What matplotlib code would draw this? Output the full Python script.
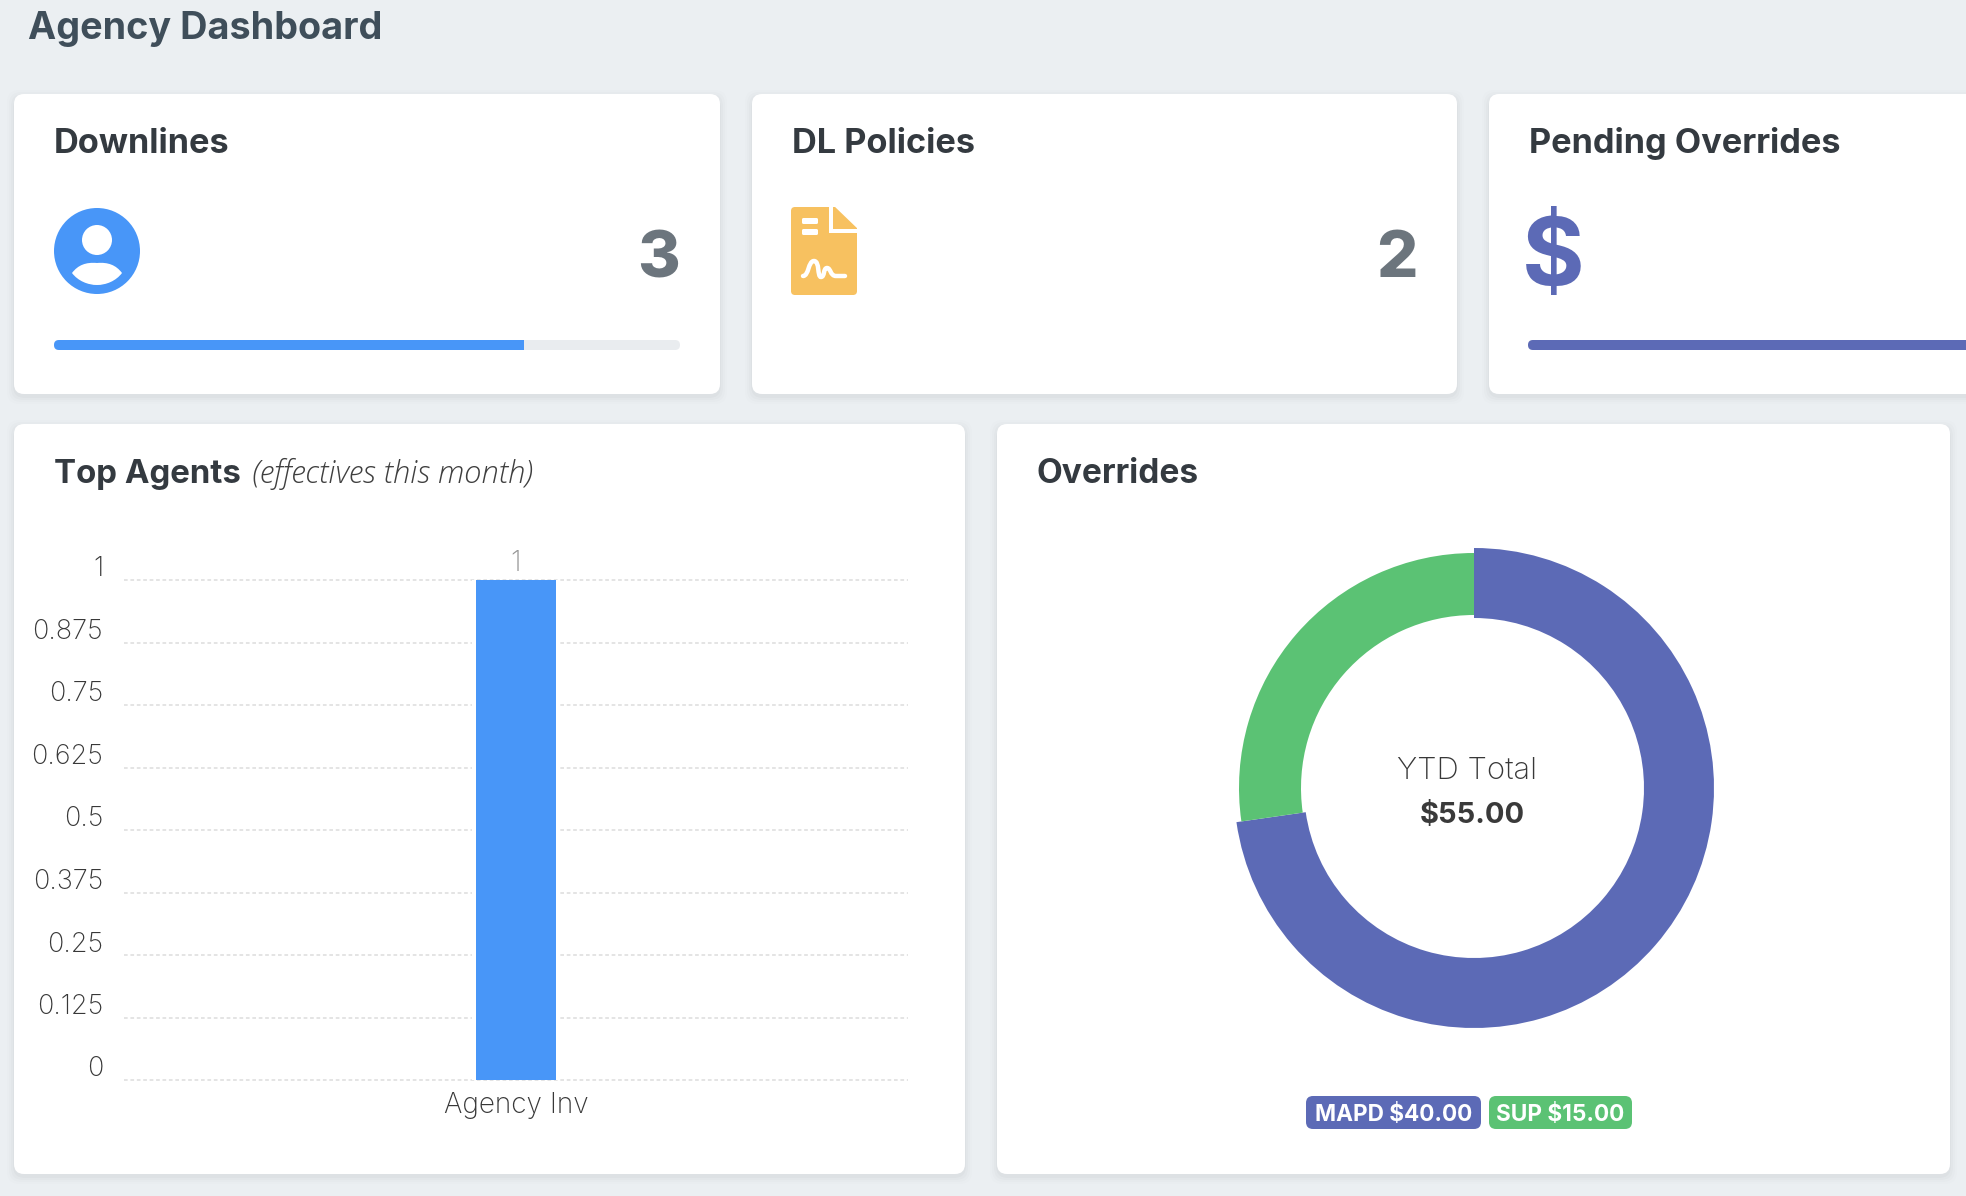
import matplotlib
matplotlib.use('Agg')
import matplotlib.pyplot as plt
from matplotlib.patches import FancyBboxPatch, Rectangle, Polygon, Circle, PathPatch
from matplotlib.path import Path
from matplotlib.transforms import ScaledTranslation

# data
page_title = "Agency Dashboard"
stat_titles = ["Downlines", "DL Policies", "Pending Overrides"]
stat_values = ["3", "2", ""]
stat_progress = [75, 0, 100]
agents = ["Agency Inv"]
agent_counts = [1]
y_ticks = [0, 0.125, 0.25, 0.375, 0.5, 0.625, 0.75, 0.875, 1]
y_labels = ["0", "0.125", "0.25", "0.375", "0.5", "0.625", "0.75", "0.875", "1"]
override_names = ["MAPD", "SUP"]
override_values = [40.0, 15.0]

W, H = 1966, 1196
BLUE = "#4896f8"
INDIGO = "#5c6ab6"
GREEN = "#5bc274"
YELLOW = "#f7c160"
FONT = "Inter"


def fs(px):
    return px * 0.72


def px_axes(x0, y0, x1, y1):
    return fig.add_axes([x0 / W, 1 - y1 / H, (x1 - x0) / W, (y1 - y0) / H])


def card(x0, y0, x1, y1):
    for grow, alpha in [(7, 0.007), (5, 0.01), (3, 0.014), (1, 0.018)]:
        bg.add_patch(FancyBboxPatch((x0 - grow + 12, y0 + 3 - grow + 12), x1 - x0 + 2 * grow - 24,
                                    y1 - y0 + 2 * grow - 24, boxstyle="round,pad=12,rounding_size=12",
                                    fc="black", ec="none", alpha=alpha))
    bg.add_patch(FancyBboxPatch((x0 + 10, y0 + 10), x1 - x0 - 20, y1 - y0 - 20,
                                boxstyle="round,pad=10,rounding_size=10", fc="white", ec="none"))


def rounded(x0, y0, x1, y1, r, color):
    p = FancyBboxPatch((x0 + r, y0 + r), x1 - x0 - 2 * r, y1 - y0 - 2 * r,
                       boxstyle="round,pad=%g,rounding_size=%g" % (r, r), fc=color, ec="none")
    bg.add_patch(p)
    return p


fig = plt.figure(figsize=(W / 100, H / 100), dpi=100, facecolor="#ebeff2")
bg = px_axes(0, 0, W, H)
bg.set_xlim(0, W)
bg.set_ylim(H, 0)
bg.axis("off")

bg.text(28, 39, page_title, fontsize=fs(37.8), fontweight="bold", family=FONT, color="#3f4e5a", va="baseline")

# stat cards
card_x = [(14, 720), (752, 1457), (1489, 2100)]
value_right = [680, 1418, 0]
for i in range(3):
    x0, x1 = card_x[i]
    card(x0, 94, x1, 394)
    bg.text(x0 + 40, 153, stat_titles[i], fontsize=fs(34.3), fontweight="bold", family=FONT, color="#343a40", va="baseline")
    if stat_values[i]:
        bg.text(value_right[i], 277, stat_values[i], fontsize=fs(65), fontweight="heavy", family=FONT,
                color="#6c757d", ha="right", va="baseline")

# progress bars
track_x = [(54, 680), None, (1528, 2100)]
for i in range(3):
    if track_x[i] is None:
        continue
    x0, x1 = track_x[i]
    track = rounded(x0, 340, x1, 350, 5, "#e9ecef")
    fill = Rectangle((x0, 340), (x1 - x0) * stat_progress[i] / 100, 10, fc=BLUE if i == 0 else INDIGO, ec="none")
    bg.add_patch(fill)
    fill.set_clip_path(track)

# person icon
bg.add_patch(Circle((97, 251), 43, fc=BLUE, ec="none"))
bg.add_patch(Circle((97, 240), 15, fc="white", ec="none"))
shoulders = Path([(72, 273), (78, 265), (86, 262), (97, 263), (108, 262), (116, 265), (122, 273),
                  (116, 281), (106, 285), (97, 285), (88, 285), (78, 281), (72, 273)],
                 [Path.MOVETO] + [Path.CURVE4] * 12)
bg.add_patch(PathPatch(shoulders, fc="white", ec="none"))

# document icon
rounded(791, 207, 857, 295, 4, YELLOW)
bg.add_patch(Polygon([(833, 205), (860, 205), (860, 231)], fc="white", ec="none"))
bg.add_patch(Polygon([(829, 205), (833, 205), (833, 229), (858, 229), (858, 233), (829, 233)], fc="white", ec="none"))
rounded(802, 218, 818, 224, 1.5, "white")
rounded(802, 229, 818, 235, 1.5, "white")
squiggle = Path([(803, 276), (809, 276), (808, 261), (814, 261), (820, 261), (817, 277), (821, 277),
                 (825, 277), (823, 268), (827, 268), (831, 268), (830, 276), (836, 276), (845, 276)],
                [Path.MOVETO] + [Path.CURVE4] * 12 + [Path.LINETO])
bg.add_patch(PathPatch(squiggle, fc="none", ec="white", lw=3.2, capstyle="round", joinstyle="round"))

# dollar icon
bg.text(1553, 261, "$", fontsize=fs(96), fontweight="bold", family=FONT, color=INDIGO, ha="center", va="center")

# bottom cards
card(14, 424, 965, 1174)
card(997, 424, 1950, 1174)
bg.text(53.5, 483, "Top Agents", fontsize=fs(33), fontweight="bold", family=FONT, color="#343a40", va="baseline")
bg.text(252, 483, "(effectives this month)", fontsize=fs(31), style="italic", fontweight="light", family="Open Sans",
        color="#3f3f3f", va="baseline")
bg.text(1037, 483, "Overrides", fontsize=fs(33.5), fontweight="bold", family=FONT, color="#343a40", va="baseline")

# bar chart
ax = px_axes(124, 580, 908, 1080)
ax.patch.set_alpha(0)
ax.set_xlim(-0.5, 0.5)
ax.set_ylim(0, 1)
for s in ax.spines.values():
    s.set_visible(False)
ax.set_axisbelow(True)
ax.yaxis.grid(True, color="#dcdcdc", lw=1.1, linestyle=(0, (2.4, 1.8)), clip_on=False)
ax.bar(range(len(agents)), agent_counts, width=88 / 784, color="white", zorder=2)
bars = ax.bar(range(len(agents)), agent_counts, width=80 / 784, color=BLUE, zorder=3)
ax.bar_label(bars, labels=[str(v) for v in agent_counts], padding=2, fontsize=fs(28), fontweight="light",
             family=FONT, color="#969696")
ax.set_yticks(y_ticks)
ax.set_yticklabels(y_labels, fontsize=fs(27), fontweight="light", family=FONT, color="#383838", va="bottom")
ax.set_xticks(range(len(agents)))
ax.set_xticklabels(agents, fontsize=fs(28), fontweight="light", family=FONT, color="#383838")
ax.tick_params(axis="both", length=0)
ax.tick_params(axis="y", pad=15)
ax.tick_params(axis="x", pad=8.7)
nudge = ScaledTranslation(0, -2.5 / 100, fig.dpi_scale_trans)
for lbl in ax.get_yticklabels():
    lbl.set_transform(lbl.get_transform() + nudge)

# donut
cx, cy, R = 1474, 788, 240
pie_ax = px_axes(cx - R, cy - R, cx + R, cy + R)
pie_ax.patch.set_alpha(0)
wedges, _ = pie_ax.pie(override_values, colors=[INDIGO, GREEN], startangle=90, counterclock=False, radius=1.0,
                       wedgeprops=dict(width=70 / 240, linewidth=0))
wedges[1].set_radius(235 / 240)
wedges[1].set_width(62 / 240)
pie_ax.set_xlim(-1, 1)
pie_ax.set_ylim(-1, 1)

bg.set_zorder(0)
ax.set_zorder(1)
pie_ax.set_zorder(1)
top = px_axes(0, 0, W, H)
top.set_xlim(0, W)
top.set_ylim(H, 0)
top.axis("off")
top.set_zorder(2)
top.text(1467, 771, "YTD Total", fontsize=fs(31), fontweight="light", family=FONT, color="#383838", ha="center", va="center")
top.text(1472, 816, "$%.2f" % sum(override_values), fontsize=fs(29), fontweight="bold", family=FONT, color="#3a3a3a", ha="center", va="center")

# badges
badge_x = [(1306, 1481), (1489, 1632)]
badge_col = [INDIGO, GREEN]
for i in range(2):
    x0, x1 = badge_x[i]
    rounded(x0, 1096, x1, 1129, 7, badge_col[i])
    bg.text((x0 + x1) / 2, 1112.5, "%s $%.2f" % (override_names[i], override_values[i]), fontsize=fs(22.6),
            fontweight="bold", family=FONT, color="white", ha="center", va="center_baseline")

fig.savefig("out.png", dpi=100, facecolor=fig.get_facecolor())
